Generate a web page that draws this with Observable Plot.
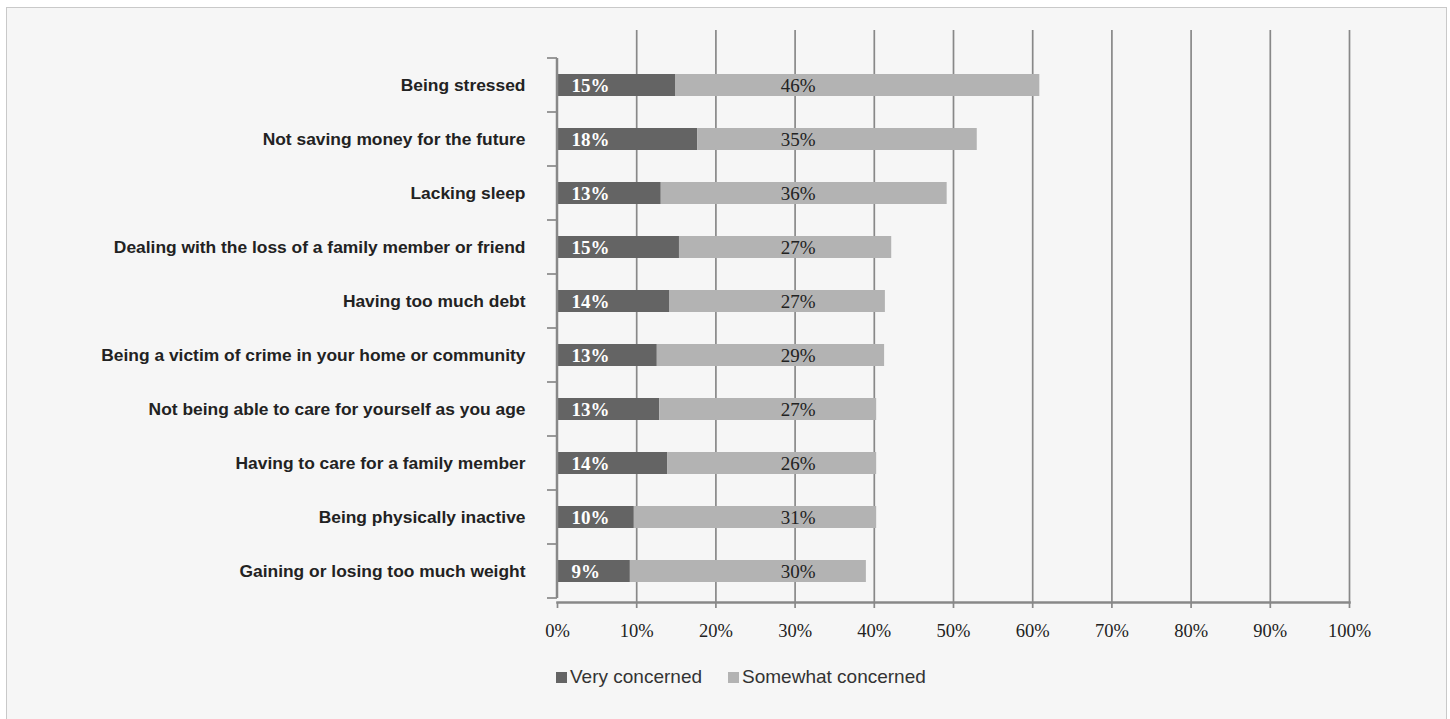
<!DOCTYPE html>
<html><head><meta charset="utf-8">
<script src="https://cdn.jsdelivr.net/npm/d3@7"></script>
<script src="https://cdn.jsdelivr.net/npm/@observablehq/plot@0.6"></script>
<style>
html,body{margin:0;padding:0;background:#fff;}
#frame{position:absolute;left:6px;top:7px;width:1441px;height:730px;border:1px solid #c9c9c9;background:#f6f6f6;box-sizing:border-box;overflow:hidden}
#chart svg{display:block}
#legend{display:flex;align-items:center;height:24px;line-height:24px;margin-top:12px;padding-left:549px;font-family:"Liberation Sans",Arial,sans-serif;font-size:19px;color:#333}
.sw{display:inline-block;width:11px;height:11px;margin-right:3px}
.item{display:flex;align-items:center;margin-right:26px}
</style>
</head><body>
<div id="frame"><div id="chart"></div><div id="legend"></div></div>
<script>
const categories = [
  "Being stressed",
  "Not saving money for the future",
  "Lacking sleep",
  "Dealing with the loss of a family member or friend",
  "Having too much debt",
  "Being a victim of crime in your home or community",
  "Not being able to care for yourself as you age",
  "Having to care for a family member",
  "Being physically inactive",
  "Gaining or losing too much weight"
];
const veryConcerned = [14.9, 17.7, 13.1, 15.4, 14.2, 12.6, 12.9, 13.9, 9.7, 9.2];
const somewhatConcerned = [46.0, 35.3, 36.1, 26.8, 27.2, 28.7, 27.4, 26.4, 30.6, 29.8];
const seriesNames = ["Very concerned", "Somewhat concerned"];
const seriesColors = ["#646464", "#b3b3b3"];
const xTicks = [0, 10, 20, 30, 40, 50, 60, 70, 80, 90, 100];

const rows = categories.flatMap((c, i) => [
  {category: c, series: seriesNames[0], value: veryConcerned[i]},
  {category: c, series: seriesNames[1], value: somewhatConcerned[i]}
]);

const serif = '"Liberation Serif","Times New Roman",serif';
const sans = '"Liberation Sans",Arial,sans-serif';
const gridColor = "#888888";

const chart = Plot.plot({
  width: 1439,
  height: 645,
  marginLeft: 550,
  marginRight: 97,
  marginTop: 22,
  marginBottom: 51,
  style: {background: "transparent", fontFamily: sans},
  x: {domain: [0, 100]},
  y: {domain: categories, range: [45, 594], paddingInner: 0.6, paddingOuter: 0.3},
  color: {domain: seriesNames, range: seriesColors},
  marks: [
    Plot.ruleX(xTicks.filter(d => d > 0), {stroke: gridColor, strokeWidth: 1.7}),
    Plot.barX(rows, {y: "category", x: "value", fill: "series"}),
    Plot.text(rows.filter(d => d.series === seriesNames[0]), {
      y: "category", x: 0, dx: 14, text: d => Math.round(d.value) + "%",
      textAnchor: "start", fill: "white", fontWeight: "bold", fontFamily: serif, fontSize: 19
    }),
    Plot.text(rows.filter(d => d.series === seriesNames[1]), {
      y: "category", x: 30.4, text: d => Math.round(d.value) + "%",
      textAnchor: "middle", fill: "#222", fontFamily: serif, fontSize: 19
    }),
    Plot.frame({anchor: "bottom", stroke: gridColor, strokeWidth: 2.5}),
    Plot.axisX({ticks: xTicks, tickFormat: d => d + "%", tickSize: 6, tickPadding: 15,
      stroke: gridColor, strokeWidth: 1.7, fill: "#222", fontFamily: serif, fontSize: 18.5, label: null}),
    Plot.axisY({tickSize: 0, tickPadding: 32, label: null, fill: "#222",
      fontWeight: "bold", fontFamily: sans, fontSize: 17.4})
  ]
});

// left axis line and category boundary ticks, positioned via the plot's own scales
const ys = chart.scale("y"), xs = chart.scale("x");
const x0 = xs.apply(0);
const centers = categories.map(c => ys.apply(c) + ys.bandwidth / 2);
const half = ys.step / 2;
const bounds = [centers[0] - half, ...centers.map(c => c + half)];
const g = d3.select(chart).append("g").attr("stroke", gridColor);
g.append("line").attr("x1", x0).attr("x2", x0)
  .attr("y1", bounds[0]).attr("y2", bounds[bounds.length - 1]).attr("stroke-width", 2.5);
g.selectAll("line.tk").data(bounds).join("line").attr("class", "tk")
  .attr("x1", x0 - 10).attr("x2", x0).attr("y1", d => d).attr("y2", d => d).attr("stroke-width", 1.7);

document.getElementById("chart").append(chart);

const legend = d3.select("#legend");
seriesNames.forEach((s, i) => {
  const it = legend.append("div").attr("class", "item");
  it.append("span").attr("class", "sw").style("background", seriesColors[i]);
  it.append("span").text(s);
});
</script>
</body></html>
